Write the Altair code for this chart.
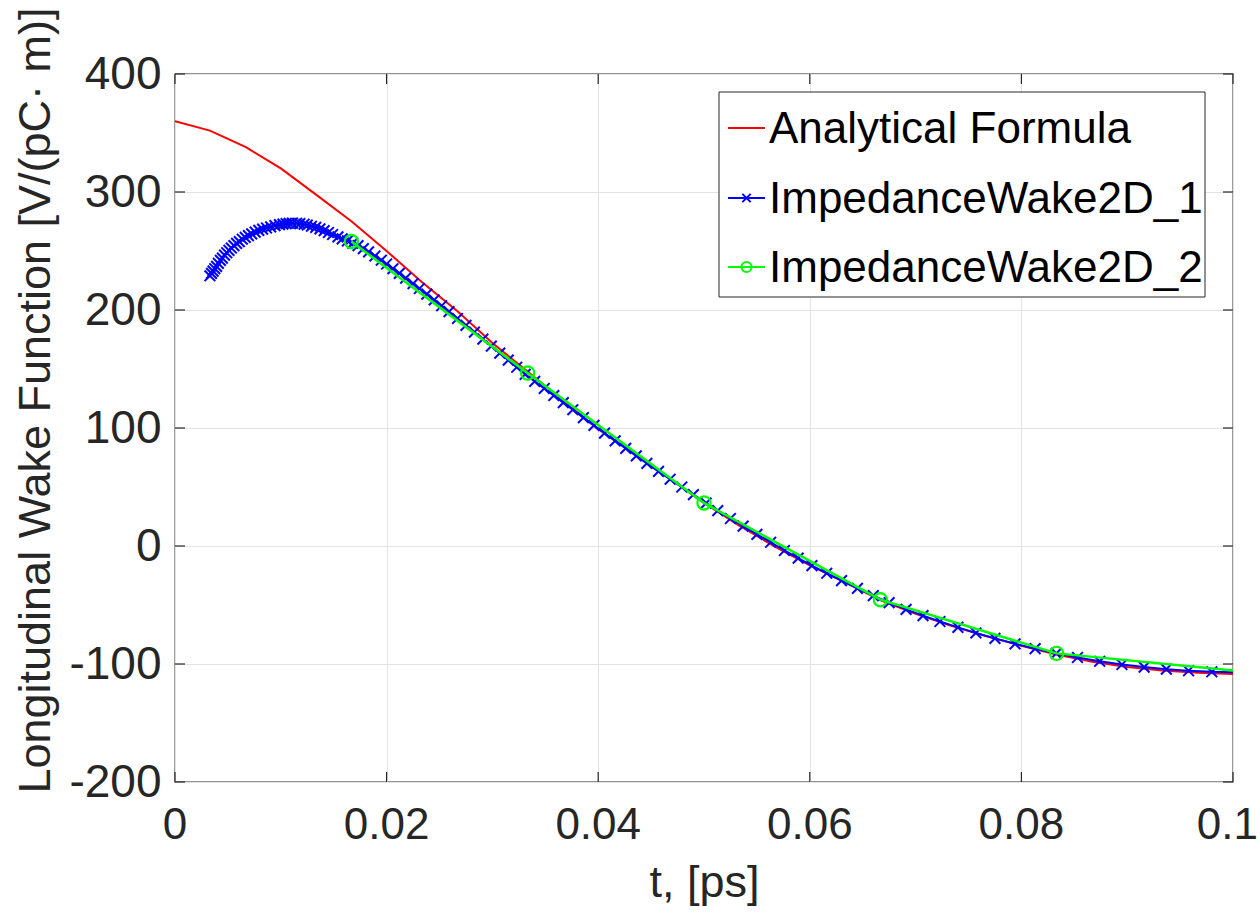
import altair as alt
import pandas as pd

# ---------------- data ----------------
series_names = ["Analytical Formula", "ImpedanceWake2D_1", "ImpedanceWake2D_2"]
series_colors = ["#ff0000", "#0000ff", "#00ff00"]

t_red = [0, 0.0033, 0.0067, 0.01, 0.0133, 0.0167, 0.02, 0.0233, 0.0267, 0.03, 0.0333,
         0.0367, 0.04, 0.0433, 0.0467, 0.05, 0.0533, 0.0567, 0.06, 0.0633, 0.0667, 0.07,
         0.0733, 0.0767, 0.08, 0.0833, 0.0867, 0.09, 0.0933, 0.0967, 0.1]
v_red = [360, 352, 338, 320, 298, 275, 250, 224, 199, 172, 148,
         123, 99, 79, 57.5, 36.5, 17.5, -0.5, -16.5, -30.5, -46, -57.5,
         -67.5, -76.5, -84.5, -92, -98, -102.5, -105.5, -107.5, -108.5]

t_blue = [0.0033, 0.00345, 0.0036, 0.00376, 0.00393, 0.0041, 0.00429, 0.00448, 0.00468, 0.00489,
          0.0051, 0.00533, 0.00557, 0.00582, 0.00608, 0.00636, 0.00664, 0.00694, 0.00725, 0.00758,
          0.00792, 0.00828, 0.00865, 0.00904, 0.00945, 0.00987, 0.0102, 0.0105, 0.0108, 0.0111,
          0.0115, 0.0118, 0.0122, 0.0125, 0.0129, 0.0133, 0.0137, 0.0141, 0.0145, 0.0149,
          0.0154, 0.0158, 0.0163, 0.0168, 0.0173, 0.0178, 0.0183, 0.0189, 0.0195, 0.0200,
          0.0206, 0.0212, 0.0218, 0.0225, 0.0231, 0.0238, 0.0245, 0.0252, 0.0259, 0.0267,
          0.0275, 0.0283, 0.0291, 0.0299, 0.0307, 0.0315, 0.0323, 0.0331, 0.0340, 0.0349,
          0.0358, 0.0367, 0.0376, 0.0386, 0.0396, 0.0406, 0.0416, 0.0426, 0.0436, 0.0446,
          0.0457, 0.0468, 0.0479, 0.0490, 0.0502, 0.0513, 0.0525, 0.0537, 0.0550, 0.0563,
          0.0576, 0.0589, 0.0602, 0.0616, 0.0630, 0.0645, 0.0660, 0.0675, 0.0691, 0.0707,
          0.0723, 0.0740, 0.0757, 0.0775, 0.0794, 0.0813, 0.0833, 0.0853, 0.0874, 0.0895,
          0.0916, 0.0937, 0.0958, 0.0980, 0.1]
v_blue = [229, 231, 233, 235, 237, 239.5, 242, 244, 246.5, 248.5,
          250.5, 252.5, 254.5, 256.5, 258, 260, 261.5, 263, 264.5, 266,
          267.5, 268.5, 269.5, 270.5, 271.5, 272.3, 272.8, 273.2, 273.5, 273.6,
          273.5, 273.2, 272.7, 272, 271, 270, 268.7, 267.3, 265.7, 264,
          262, 260.3, 258.6, 256.7, 254.5, 252, 249.3, 245.8, 242.2, 239,
          235, 231, 227, 222.3, 218.2, 213.4, 208.5, 203.6, 198.6, 192.8,
          187, 181.2, 175.3, 169.4, 163.4, 157.5, 151.5, 145.5, 139.5, 133.5,
          127.5, 121.5, 115.5, 108.8, 102.2, 95.6, 89.1, 82.7, 76.4, 70,
          63.3, 56.6, 50, 43.5, 36.3, 30.0, 23.3, 16.8, 9.9, 3.2,
          -3.8, -10.3, -16.6, -23.1, -29.4, -35.9, -42.1, -48.0, -53.7, -59.0,
          -64.0, -69.0, -73.7, -78.3, -82.9, -87.0, -91.0, -94.5, -97.7, -100.4,
          -102.6, -104.4, -105.7, -106.6, -107]

t_green = [0.01667, 0.03333, 0.05, 0.06667, 0.08333, 0.1]
v_green = [258, 146.6, 36.5, -45.5, -91, -105.5]

x_ticks = [0, 0.02, 0.04, 0.06, 0.08, 0.1]
x_tick_labels = ["0", "0.02", "0.04", "0.06", "0.08", "0.1"]
y_ticks = [-200, -100, 0, 100, 200, 300, 400]

x_title = "t, [ps]"
y_title = "Longitudinal Wake Function [V/(pC\u00b7 m)]"

# ---------------- layout ----------------
W, H = 1058, 708
FONT = "Liberation Sans"
AX = "#262626"

red_df = pd.DataFrame({"t": t_red, "v": v_red})
blue_df = pd.DataFrame({"t": t_blue, "v": v_blue})
green_df = pd.DataFrame({"t": t_green, "v": v_green})

xs = alt.Scale(domain=[0, 0.1], nice=False, zero=False)
ys = alt.Scale(domain=[-200, 400], nice=False, zero=False)

xax = alt.Axis(values=x_ticks, title=x_title, grid=True, gridColor="#e3e3e3", gridWidth=1,
               domain=False, ticks=False, labels=False,
               titleFontSize=45, titleFont=FONT, titleFontWeight="normal", titleColor=AX,
               titleX=W / 2, titleY=114, titleAnchor="middle", titleBaseline="alphabetic")
yax = alt.Axis(values=y_ticks, title=y_title, grid=True, gridColor="#e3e3e3", gridWidth=1,
               domain=False, ticks=False, labelPadding=14, labelFontSize=46, labelFont=FONT,
               labelColor=AX, labelExpr="'' + datum.value", labelFlush=False,
               labelOverlap=False,
               titleFontSize=45, titleFont=FONT, titleFontWeight="normal", titleColor=AX,
               titleX=-140, titleY=326, titleAngle=270, titleAlign="center",
               titleBaseline="middle", titleAnchor="middle")

X = alt.X("t:Q", scale=xs, axis=xax)
Y = alt.Y("v:Q", scale=ys, axis=yax)

cross_path = "M-1,-1L1,1M-1,1L1,-1"
CROSS_SIZE = 115
CIRCLE_SIZE = 175

red = alt.Chart(red_df).mark_line(color=series_colors[0], strokeWidth=2, clip=True).encode(x=X, y=Y)
blue_line = alt.Chart(blue_df).mark_line(color=series_colors[1], strokeWidth=2, clip=True).encode(x=X, y=Y)
blue_pts = alt.Chart(blue_df).transform_filter("datum.t < 0.0999").mark_point(
    shape=cross_path, color=series_colors[1], filled=False, strokeWidth=2, size=CROSS_SIZE,
    opacity=1, clip=True).encode(x=X, y=Y)
green_line = alt.Chart(green_df).mark_line(color=series_colors[2], strokeWidth=2.5, clip=True).encode(x=X, y=Y)
green_pts = alt.Chart(green_df).transform_filter("datum.t < 0.0999").mark_point(
    shape="circle", color=series_colors[2], filled=False, strokeWidth=2.2, size=CIRCLE_SIZE,
    opacity=1, clip=True).encode(x=X, y=Y)

# inward ticks on all four sides (MATLAB style)
xt_df = pd.DataFrame({"t": x_ticks, "lab": x_tick_labels})
yt_df = pd.DataFrame({"v": y_ticks})
tick_bottom = alt.Chart(xt_df).mark_rule(color=AX, strokeWidth=1.2).encode(
    x=X, y=alt.value(H), y2=alt.value(H - 10))
tick_top = alt.Chart(xt_df).mark_rule(color=AX, strokeWidth=1.2).encode(
    x=X, y=alt.value(0), y2=alt.value(10))
tick_left = alt.Chart(yt_df).mark_rule(color=AX, strokeWidth=1.2).encode(
    y=Y, x=alt.value(0), x2=alt.value(10))
tick_right = alt.Chart(yt_df).mark_rule(color=AX, strokeWidth=1.2).encode(
    y=Y, x=alt.value(W), x2=alt.value(W - 10))

# x tick labels (last one kept inside the canvas)
xlab_mid = alt.Chart(xt_df).transform_filter("datum.t < 0.0999").mark_text(
    font=FONT, fontSize=44, color=AX, align="center", baseline="top").encode(
    x=X, y=alt.value(H + 22), text="lab:N")
xlab_end = alt.Chart(xt_df).transform_filter("datum.t >= 0.0999").mark_text(
    font=FONT, fontSize=44, color=AX, align="right", baseline="top", dx=25).encode(
    x=X, y=alt.value(H + 22), text="lab:N")

# legend box
one = pd.DataFrame({"a": [0]})
LX0, LX1, LY0, LY1 = 544, 1030, 18, 223
rows_y = [54, 124, 193]
SX0, SX1, TX = 553, 590, 594
leg = [alt.Chart(one).mark_rect(fill="white", stroke=AX, strokeWidth=1).encode(
    x=alt.value(LX0), x2=alt.value(LX1), y=alt.value(LY0), y2=alt.value(LY1))]
for name, col, ry in zip(series_names, series_colors, rows_y):
    leg.append(alt.Chart(one).mark_rule(color=col, strokeWidth=2).encode(
        x=alt.value(SX0), x2=alt.value(SX1), y=alt.value(ry)))
    leg.append(alt.Chart(one).mark_text(text=name, font=FONT, fontSize=44, color="black",
                                        align="left", baseline="middle").encode(
        x=alt.value(TX), y=alt.value(ry + 2)))
leg.append(alt.Chart(one).mark_point(shape=cross_path, color=series_colors[1], filled=False,
                                     strokeWidth=2, size=CROSS_SIZE * 0.6, opacity=1).encode(
    x=alt.value((SX0 + SX1) / 2), y=alt.value(rows_y[1])))
leg.append(alt.Chart(one).mark_point(shape="circle", color=series_colors[2], filled=False,
                                     strokeWidth=2, size=CIRCLE_SIZE * 0.6, opacity=1).encode(
    x=alt.value((SX0 + SX1) / 2), y=alt.value(rows_y[2])))

chart = alt.layer(red, blue_line, blue_pts, green_line, green_pts,
                  tick_bottom, tick_top, tick_left, tick_right, xlab_mid, xlab_end, *leg).properties(
    width=W, height=H,
    autosize=alt.AutoSizeParams(type="none"),
    padding={"left": 175, "top": 74, "right": 27, "bottom": 131},
    background="white",
).configure_view(stroke=AX, strokeWidth=1.3)

chart.save("out.html", embed_options={"renderer": "svg", "actions": False})
